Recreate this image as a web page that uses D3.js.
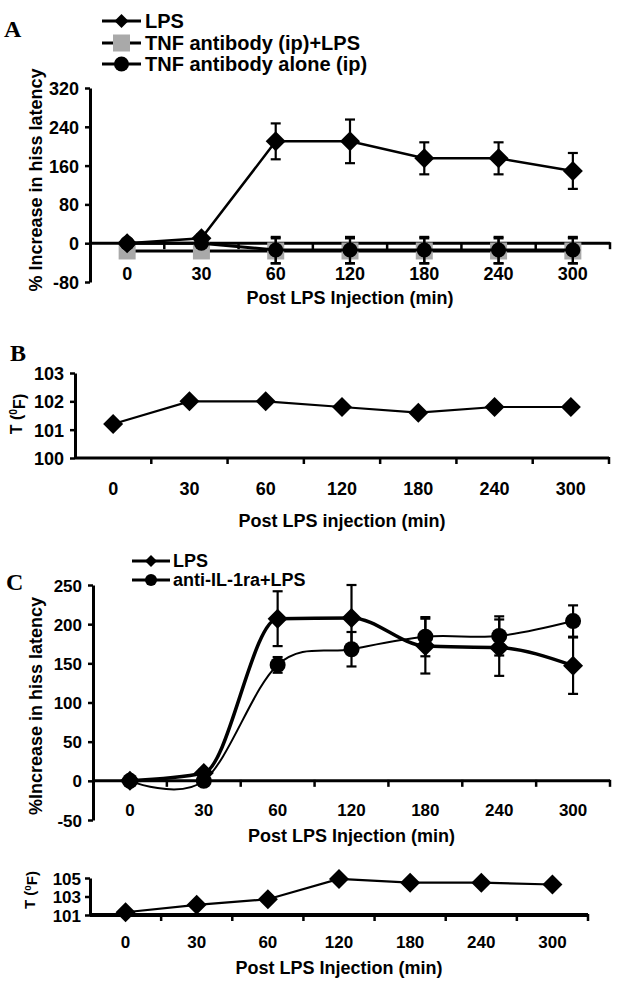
<!DOCTYPE html>
<html>
<head>
<meta charset="utf-8">
<title>LPS hiss latency</title>
<script src="https://cdn.jsdelivr.net/npm/d3@7"></script>
<style>
  * { margin: 0; padding: 0; }
  body { background: #fff; }
  svg text { font-family: "Liberation Sans", Arial, sans-serif; font-weight: bold; fill: #000; }
</style>
</head>
<body>
<div id="chart"></div>
<script>
// categories (min after LPS)
var cats = ["0", "30", "60", "120", "180", "240", "300"];

// panel A - % increase in hiss latency
var aLps = [0, 10, 210, 210, 175, 175, 149];
var aLpsErr = [5, 8, 37, 45, 33, 33, 37];
var aTnfLps = [-16, -16, -16, -16, -16, -16, -16];
var aTnfLpsErr = [0, 0, 26, 26, 26, 26, 26];
var aTnfAlone = [0, 0, -14, -14, -14, -14, -14];
var aTnfAloneErr = [0, 0, 27, 27, 27, 27, 27];
var aTicks = [-80, 0, 80, 160, 240, 320];

// panel B - body temperature
var bTemp = [101.2, 102.0, 102.0, 101.8, 101.6, 101.8, 101.8];
var bTicks = [100, 101, 102, 103];

// panel C - LPS vs anti-IL-1ra+LPS
var cLps = [0, 10, 207, 208, 172, 170, 147];
var cLpsErr = [0, 5, 35, 42, 35, 36, 36];
var cAnti = [0, 0, 148, 168, 184, 185, 204];
var cAntiErr = [0, 3, 10, 22, 25, 25, 20];
var cTicks = [-50, 0, 50, 100, 150, 200, 250];

// panel D - temperature
var dTemp = [101.3, 102.1, 102.7, 104.9, 104.5, 104.5, 104.3];
var dTicks = [101, 103, 105];

var svg = d3.select("#chart").append("svg")
    .attr("width", 629)
    .attr("height", 1007);

function diamond(h) {
    return "M0," + (-h) + "L" + h + ",0L0," + h + "L" + (-h) + ",0Z";
}

// draws axes for one panel, returns scales
function axes(p) {
    var x = d3.scaleBand().domain(cats).range([p.x0, p.x1]).padding(0);
    var y = d3.scaleLinear().domain(p.dom).range([p.yb, p.yt]);
    var g = svg.append("g");

    // y axis
    var ya = g.append("g")
        .attr("transform", "translate(" + p.x0 + ",0)")
        .call(d3.axisLeft(y).tickValues(p.ticks).tickSize(5).tickSizeOuter(0)
            .tickPadding(p.yPad || 6).tickFormat(function (d) { return String(d); }));
    ya.select(".domain").attr("stroke-width", 3);
    ya.selectAll(".tick line").attr("stroke-width", 2.5);
    ya.selectAll("text").style("font-size", p.fs + "px").attr("dy", "0.36em");

    // x axis line at the base value
    var yb = y(p.base);
    var bounds = cats.map(function (c) { return x(c); }).concat([p.x1]);
    g.append("line")
        .attr("x1", p.x0).attr("x2", p.x1)
        .attr("y1", yb).attr("y2", yb)
        .attr("stroke", "#000").attr("stroke-width", p.xw || 3);
    g.selectAll(".bt").data(bounds.slice(1)).enter().append("line")
        .attr("x1", function (d) { return d; }).attr("x2", function (d) { return d; })
        .attr("y1", yb - 1).attr("y2", yb + 6)
        .attr("stroke", "#000").attr("stroke-width", 2.5);

    // category labels
    g.selectAll(".xl").data(cats).enter().append("text")
        .attr("x", function (d) { return x(d) + x.bandwidth() / 2; })
        .attr("y", p.labY)
        .attr("text-anchor", "middle")
        .style("font-size", p.fs + "px")
        .text(function (d) { return d; });

    // x title
    g.append("text")
        .attr("x", (p.x0 + p.x1) / 2)
        .attr("y", p.titleY)
        .attr("text-anchor", "middle")
        .style("font-size", p.tfs + "px")
        .text(p.xTitle);

    // y title
    var yt = g.append("text")
        .attr("transform", "translate(" + p.yTitleX + "," + p.yTitleY + ") rotate(-90)")
        .attr("text-anchor", "middle")
        .style("font-size", p.yfs + "px");
    if (p.temp) {
        yt.append("tspan").text("T (");
        yt.append("tspan").attr("dy", "-0.45em").style("font-size", (p.yfs * 0.65) + "px").text("0");
        yt.append("tspan").attr("dy", "0.45em").text("F)");
    } else {
        yt.text(p.yTitle);
    }

    // panel letter
    if (p.letter) {
        svg.append("text")
            .attr("x", p.letter[1]).attr("y", p.letter[2])
            .style("font-family", "'Liberation Serif', 'Times New Roman', serif")
            .style("font-size", "24px")
            .text(p.letter[0]);
    }
    return { x: x, y: y, cx: function (c) { return x(c) + x.bandwidth() / 2; } };
}

function errorBars(s, vals, errs) {
    var g = svg.append("g").attr("stroke", "#000").attr("stroke-width", 2.2);
    cats.forEach(function (c, i) {
        if (!errs[i]) return;
        var cx = s.cx(c), y1 = s.y(vals[i] + errs[i]), y2 = s.y(vals[i] - errs[i]);
        g.append("line").attr("x1", cx).attr("x2", cx).attr("y1", y1).attr("y2", y2);
        g.append("line").attr("x1", cx - 5).attr("x2", cx + 5).attr("y1", y1).attr("y2", y1);
        g.append("line").attr("x1", cx - 5).attr("x2", cx + 5).attr("y1", y2).attr("y2", y2);
    });
}

function series(s, vals, opt) {
    var line = d3.line()
        .x(function (d, i) { return s.cx(cats[i]); })
        .y(function (d) { return s.y(d); })
        .curve(opt.curve || d3.curveLinear);
    svg.append("path").datum(vals)
        .attr("d", line)
        .attr("fill", "none")
        .attr("stroke", opt.stroke || "#000")
        .attr("stroke-width", opt.lw || 2.5);
    markers(svg.append("g"), vals.map(function (v, i) { return [s.cx(cats[i]), s.y(v)]; }), opt);
}

function markers(g, pts, opt) {
    pts.forEach(function (p) {
        if (opt.mark == "diamond") {
            g.append("path").attr("d", diamond(opt.size))
                .attr("transform", "translate(" + p[0] + "," + p[1] + ")")
                .attr("fill", "#000");
        } else if (opt.mark == "square") {
            g.append("rect")
                .attr("x", p[0] - opt.size).attr("y", p[1] - opt.size)
                .attr("width", opt.size * 2).attr("height", opt.size * 2)
                .attr("fill", "#a9a9a9");
        } else {
            g.append("circle").attr("cx", p[0]).attr("cy", p[1]).attr("r", opt.size).attr("fill", "#000");
        }
    });
}

function legend(items, x0, x1, tx, fs) {
    items.forEach(function (it) {
        svg.append("line").attr("x1", x0).attr("x2", x1).attr("y1", it.y).attr("y2", it.y)
            .attr("stroke", "#000").attr("stroke-width", it.lw || 3);
        markers(svg.append("g"), [[(x0 + x1) / 2, it.y]], it);
        svg.append("text").attr("x", tx).attr("y", it.y).attr("dy", "0.36em")
            .style("font-size", fs + "px").text(it.label);
    });
}

// ---------- Panel A ----------
var sA = axes({
    x0: 90, x1: 610, yt: 88, yb: 282, dom: [-80, 320], ticks: aTicks, base: 0,
    fs: 18, tfs: 18, yfs: 18, labY: 280, titleY: 304,
    xTitle: "Post LPS Injection (min)", yTitle: "% Increase in hiss latency",
    yTitleX: 42, yTitleY: 180, letter: ["A", 4, 37]
});
var aOptSq = { mark: "square", size: 8.5, lw: 3 };
var aOptCi = { mark: "circle", size: 7.5, lw: 3 };
var aOptDi = { mark: "diamond", size: 10, lw: 2.5 };
series(sA, aTnfLps, aOptSq);
errorBars(sA, aTnfLps, aTnfLpsErr);
series(sA, aTnfAlone, aOptCi);
errorBars(sA, aTnfAlone, aTnfAloneErr);
errorBars(sA, aLps, aLpsErr);
series(sA, aLps, aOptDi);
legend([
    { y: 21, label: "LPS", mark: "diamond", size: 7 },
    { y: 43, label: "TNF antibody (ip)+LPS", mark: "square", size: 8.5 },
    { y: 64, label: "TNF antibody alone (ip)", mark: "circle", size: 7.5 }
], 102, 141, 145, 20);

// ---------- Panel B ----------
var sB = axes({
    x0: 75, x1: 609, yt: 373, yb: 458, dom: [100, 103], ticks: bTicks, base: 100,
    fs: 18, tfs: 18, yfs: 16, labY: 495, titleY: 527,
    xTitle: "Post LPS injection (min)", temp: true,
    yTitleX: 22, yTitleY: 414, letter: ["B", 10, 361]
});
series(sB, bTemp, { mark: "diamond", size: 10, lw: 2.2 });

// ---------- Panel C ----------
var sC = axes({
    x0: 93, x1: 610, yt: 585, yb: 820, dom: [-50, 250], ticks: cTicks, base: 0,
    fs: 17, tfs: 18, yfs: 18, labY: 816, titleY: 842,
    xTitle: "Post LPS Injection (min)", yTitle: "%Increase in hiss latency",
    yTitleX: 42, yTitleY: 706, letter: ["C", 6, 590]
});
errorBars(sC, cAnti, cAntiErr);
errorBars(sC, cLps, cLpsErr);
series(sC, cAnti, { mark: "circle", size: 8, lw: 2, curve: d3.curveCardinal.tension(0) });
series(sC, cLps, { mark: "diamond", size: 10, lw: 3.5, curve: d3.curveMonotoneX });
legend([
    { y: 561, label: "LPS", mark: "diamond", size: 6 },
    { y: 580, label: "anti-IL-1ra+LPS", mark: "circle", size: 6 }
], 132, 170, 173, 18);

// ---------- Panel D ----------
var sD = axes({
    x0: 90, x1: 588, yt: 878, yb: 915, dom: [101, 105], ticks: dTicks, base: 101,
    fs: 17, tfs: 18, yfs: 15, labY: 948, titleY: 974, xw: 4,
    xTitle: "Post LPS Injection (min)", temp: true,
    yTitleX: 35, yTitleY: 890, yPad: 4
});
series(sD, dTemp, { mark: "diamond", size: 10, lw: 2.2 });
</script>
</body>
</html>
